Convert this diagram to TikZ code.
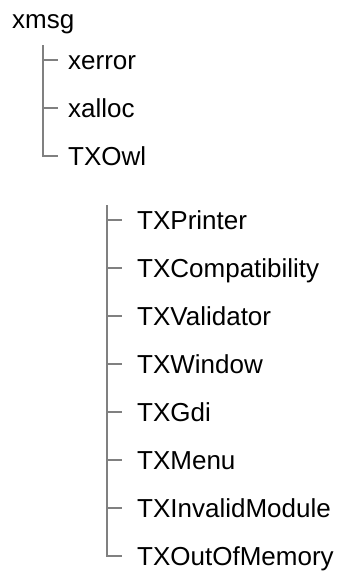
\documentclass[tikz,border=0pt]{standalone}
\usepackage{fontspec}
\setmainfont{Liberation Sans}
\begin{document}
\begin{tikzpicture}[x=1pt,y=1pt,
  item/.style={anchor=west,inner sep=0pt,text height=18.6pt,text depth=0pt,font=\fontsize{26}{30}\selectfont},
  branch/.style={draw=gray,line width=1.5pt}]
\useasboundingbox (0,0) rectangle (339,-571);
\node[item] (xmsg) at (12,-19) {xmsg};
\coordinate (c1) at (43,-45);
\node[item] (xerror) at (68,-60) {xerror};
\node[item] (xalloc) at (68,-108) {xalloc};
\node[item] (txowl) at (68,-156) {TXOwl};
\coordinate (c2) at (107,-205);
\node[item] (p) at (137,-220) {TXPrinter};
\node[item] (c) at (137,-268) {TXCompatibility};
\node[item] (v) at (137,-316) {TXValidator};
\node[item] (w) at (137,-364) {TXWindow};
\node[item] (g) at (137,-412) {TXGdi};
\node[item] (m) at (137,-460) {TXMenu};
\node[item] (im) at (137,-508) {TXInvalidModule};
\node[item] (oom) at (137,-556) {TXOutOfMemory};
\draw[branch] (c1) |- ([xshift=-10pt]txowl.west);
\foreach \n in {xerror,xalloc}
  \draw[branch] (c1 |- \n.west) -- ([xshift=-10pt]\n.west);
\draw[branch] (c2) |- ([xshift=-15pt]oom.west);
\foreach \n in {p,c,v,w,g,m,im}
  \draw[branch] (c2 |- \n.west) -- ([xshift=-15pt]\n.west);
\end{tikzpicture}
\end{document}
